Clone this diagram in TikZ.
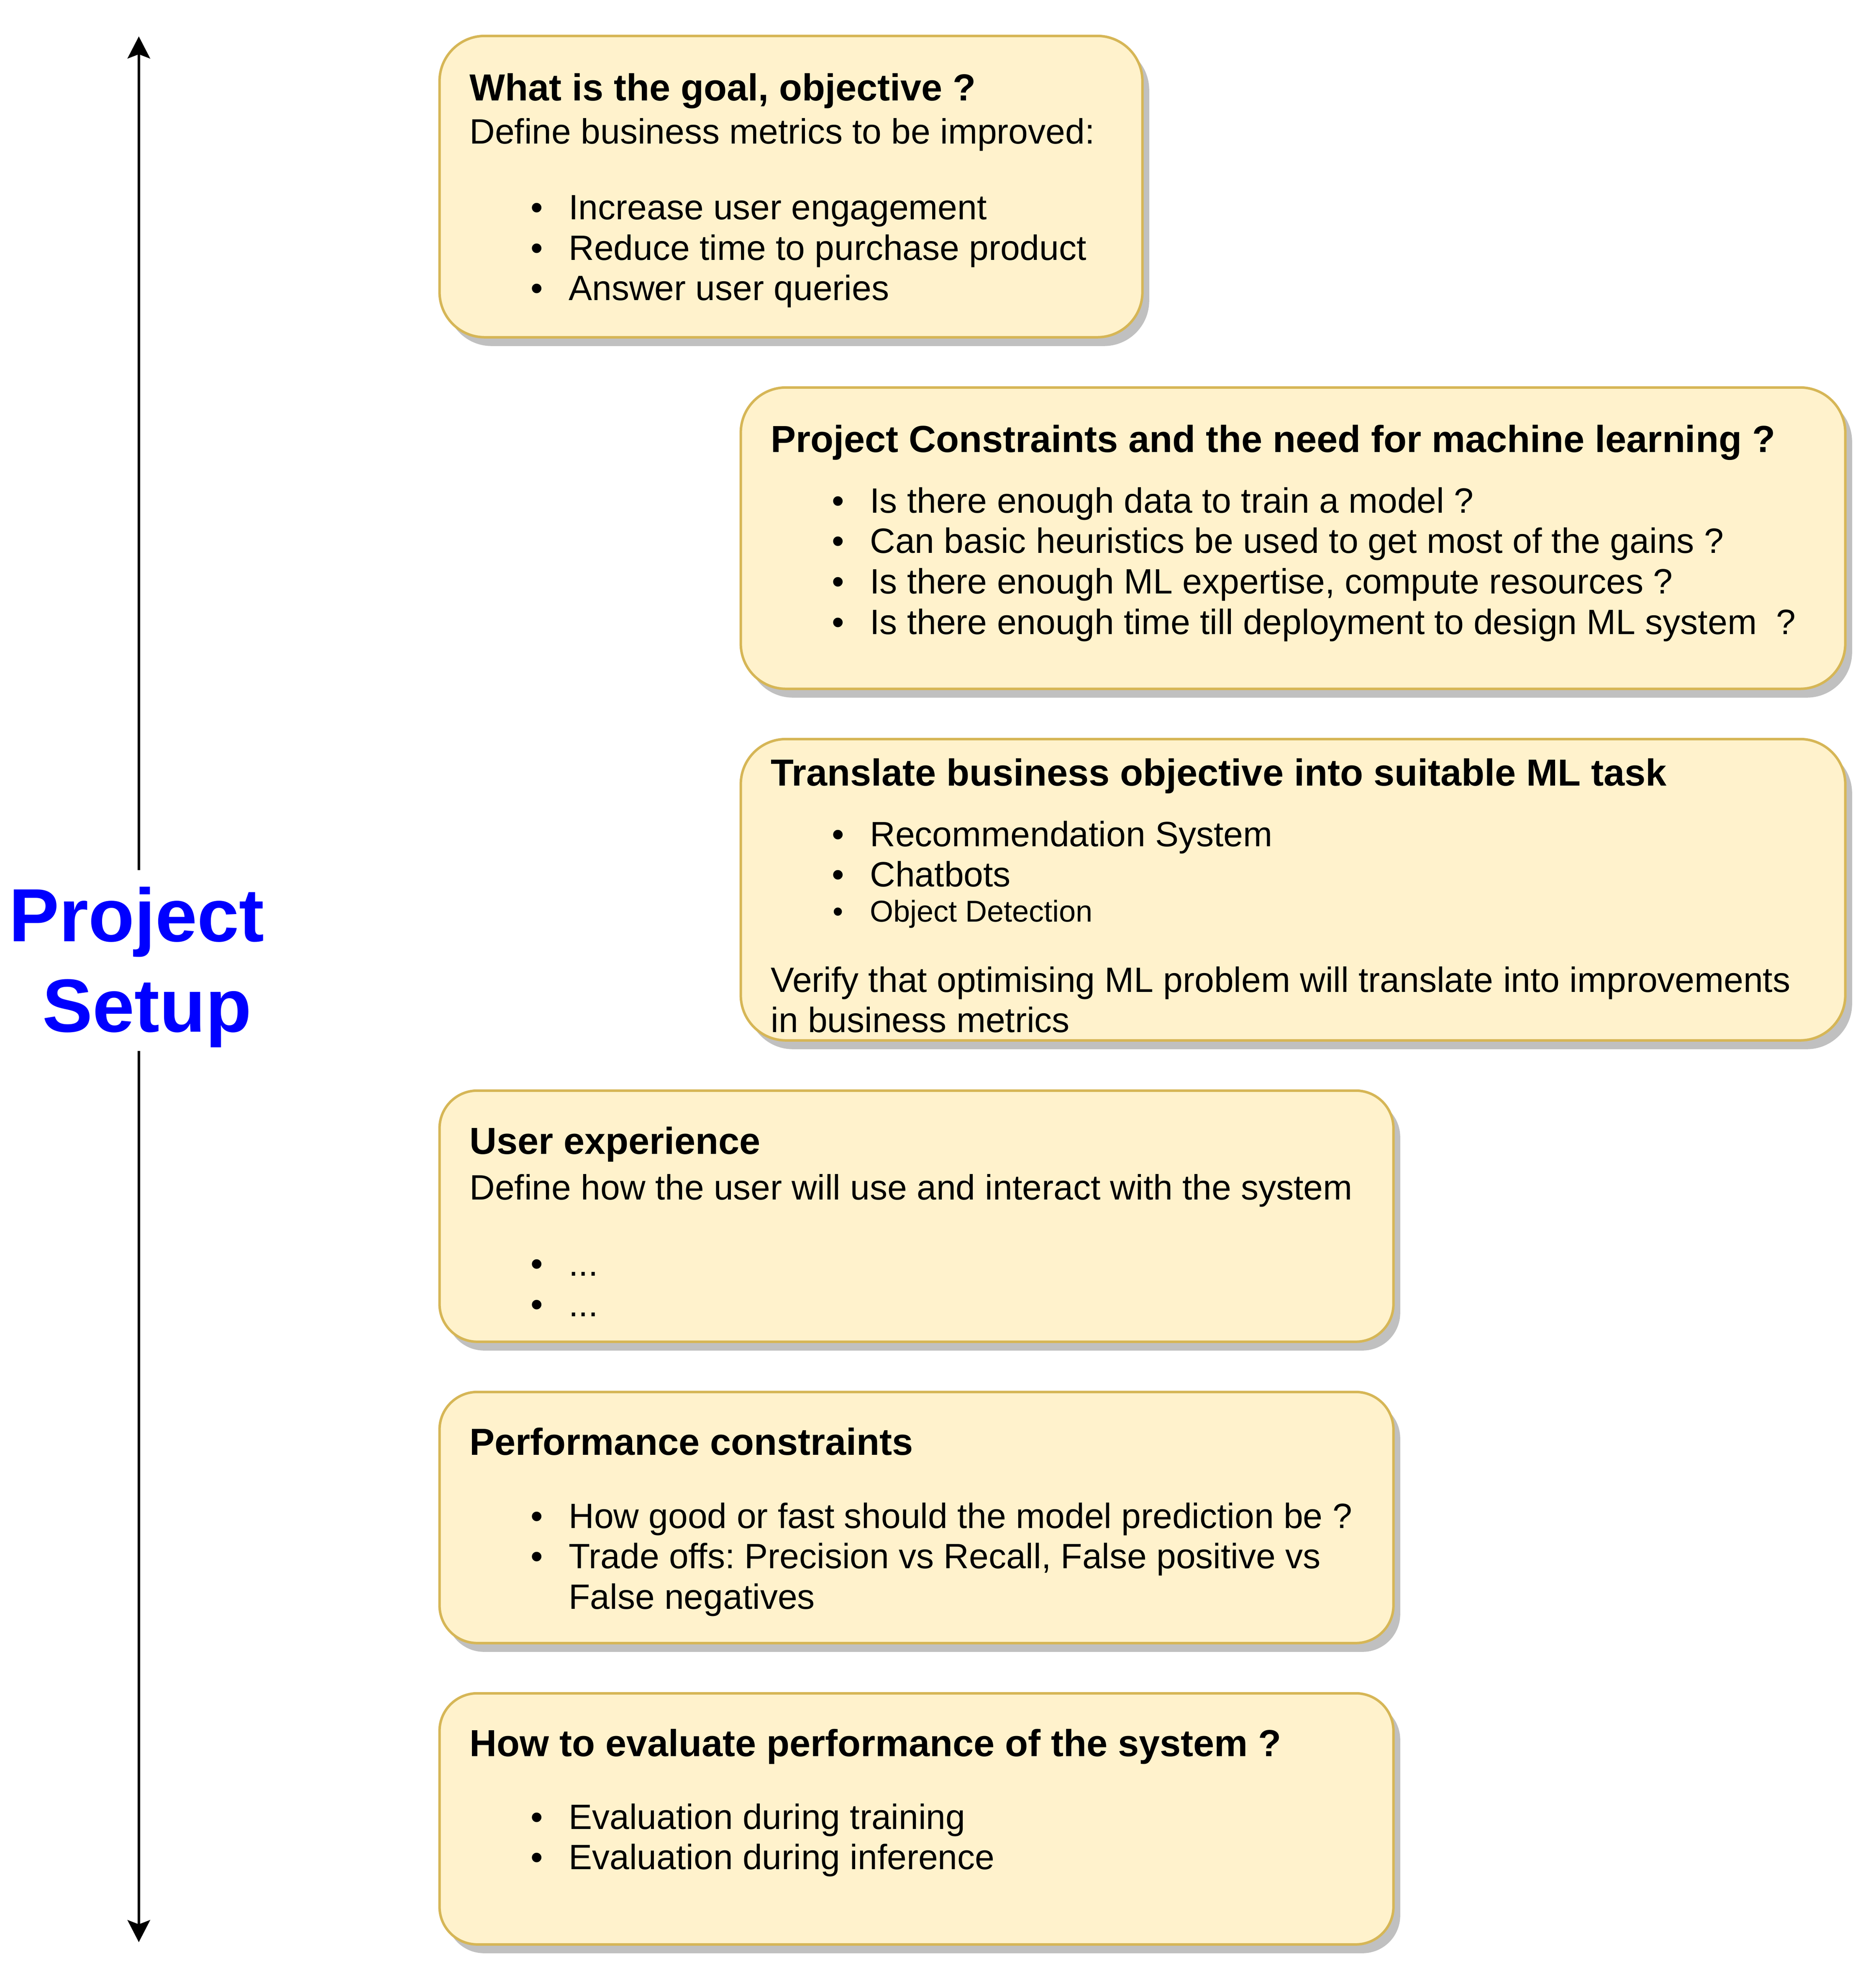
\documentclass[tikz,border=0pt]{standalone}
\usepackage{fontspec}
\setmainfont{Liberation Sans}
\usetikzlibrary{arrows.meta,shadows,calc}
\definecolor{boxfill}{HTML}{FFF2CC}
\definecolor{boxline}{HTML}{D6B656}
\definecolor{shadowc}{HTML}{C0C0C0}
\definecolor{lblblue}{HTML}{0000FF}
\newcommand{\lblstrut}{\vrule width0pt height28.4pt depth7.6pt}
\frenchspacing
\begin{document}
\begin{tikzpicture}[x=1pt,y=-1pt,
  box/.style={draw=boxline, fill=boxfill, line width=1pt, inner sep=0pt, outer sep=0pt,
    anchor=north west,
    drop shadow={shadow xshift=2.7pt, shadow yshift=-3.5pt, fill=shadowc, opacity=1}},
  bigbox/.style={box, rounded corners=18pt, minimum height=120pt},
  smallbox/.style={box, rounded corners=15pt, minimum height=100pt, minimum width=380pt},
  txt/.style={inner sep=0pt, outer sep=0pt, anchor=base west, font=\fontsize{14}{16}\selectfont},
  smalltxt/.style={txt, font=\fontsize{12}{14}\selectfont},
  ttl/.style={txt, font=\fontsize{15}{18}\selectfont\bfseries},
  dot/.style={inner sep=0pt, outer sep=0pt, anchor=base, font=\fontsize{14}{16}\selectfont},
  smalldot/.style={dot, font=\fontsize{12}{14}\selectfont},
  conn/.style={line width=1pt, >={Stealth[length=8.8pt,width=9pt,inset=1.7pt]}, <->},
  lbl/.style={inner sep=0pt, outer sep=0pt, fill=white, text=lblblue,
    font=\fontsize{30}{36}\selectfont\bfseries, anchor=north}
]
\useasboundingbox (0,0) rectangle (747.33,789.67);

% boxes
\node[bigbox, minimum width=280pt] (b1) at (175.1,14.3) {};
\node[bigbox, minimum width=440pt] (b2) at (295.1,154.3) {};
\node[bigbox, minimum width=440pt] (b3) at (295.1,294.3) {};
\node[smallbox] (b4) at (175.1,434.3) {};
\node[smallbox] (b5) at (175.1,554.3) {};
\node[smallbox] (b6) at (175.1,674.3) {};

% box 1
\node[ttl] (b1t) at ([shift={(12,25.8)}]b1.north west) {What is the goal, objective ?};
\node[txt] (b1s) at ([shift={(12,42.9)}]b1.north west) {Define business metrics to be improved:};
\node[dot] (b1d1) at ([shift={(38.8,73.1)}]b1.north west) {•};
\node[txt] (b1l1) at ([shift={(51.5,73.1)}]b1.north west) {Increase user engagement};
\node[dot] (b1d2) at ([shift={(38.8,89.2)}]b1.north west) {•};
\node[txt] (b1l2) at ([shift={(51.5,89.2)}]b1.north west) {Reduce time to purchase product};
\node[dot] (b1d3) at ([shift={(38.8,105.3)}]b1.north west) {•};
\node[txt] (b1l3) at ([shift={(51.5,105.3)}]b1.north west) {Answer user queries};

% box 2
\node[ttl] (b2t) at ([shift={(12,25.7)}]b2.north west) {Project Constraints and the need for machine learning ?};
\node[dot] (b2d1) at ([shift={(38.8,49.9)}]b2.north west) {•};
\node[txt] (b2l1) at ([shift={(51.5,49.9)}]b2.north west) {Is there enough data to train a model ?};
\node[dot] (b2d2) at ([shift={(38.8,66.0)}]b2.north west) {•};
\node[txt] (b2l2) at ([shift={(51.5,66.0)}]b2.north west) {Can basic heuristics be used to get most of the gains ?};
\node[dot] (b2d3) at ([shift={(38.8,82.1)}]b2.north west) {•};
\node[txt] (b2l3) at ([shift={(51.5,82.1)}]b2.north west) {Is there enough ML expertise, compute resources ?};
\node[dot] (b2d4) at ([shift={(38.8,98.2)}]b2.north west) {•};
\node[txt] (b2l4) at ([shift={(51.5,98.2)}]b2.north west) {Is there enough time till deployment to design ML system\ \ ?};

% box 3
\node[ttl] (b3t) at ([shift={(12,18.6)}]b3.north west) {Translate business objective into suitable ML task};
\node[dot] (b3d1) at ([shift={(38.8,42.7)}]b3.north west) {•};
\node[txt] (b3l1) at ([shift={(51.5,42.7)}]b3.north west) {Recommendation System};
\node[dot] (b3d2) at ([shift={(38.8,58.8)}]b3.north west) {•};
\node[txt] (b3l2) at ([shift={(51.5,58.8)}]b3.north west) {Chatbots};
\node[smalldot] (b3d3) at ([shift={(38.8,72.7)}]b3.north west) {•};
\node[smalltxt] (b3l3) at ([shift={(51.5,72.7)}]b3.north west) {Object Detection};
\node[txt] (b3v1) at ([shift={(12,100.7)}]b3.north west) {Verify that optimising ML problem will translate into improvements};
\node[txt] (b3v2) at ([shift={(12,116.7)}]b3.north west) {in business metrics};

% box 4
\node[ttl] (b4t) at ([shift={(12,25.3)}]b4.north west) {User experience};
\node[txt] (b4s) at ([shift={(12,43.5)}]b4.north west) {Define how the user will use and interact with the system};
\node[dot] (b4d1) at ([shift={(38.8,73.8)}]b4.north west) {•};
\node[txt] (b4l1) at ([shift={(51.5,73.8)}]b4.north west) {...};
\node[dot] (b4d2) at ([shift={(38.8,89.9)}]b4.north west) {•};
\node[txt] (b4l2) at ([shift={(51.5,89.9)}]b4.north west) {...};

% box 5
\node[ttl] (b5t) at ([shift={(12,25.1)}]b5.north west) {Performance constraints};
\node[dot] (b5d1) at ([shift={(38.8,54.2)}]b5.north west) {•};
\node[txt] (b5l1) at ([shift={(51.5,54.2)}]b5.north west) {How good or fast should the model prediction be ?};
\node[dot] (b5d2) at ([shift={(38.8,70.3)}]b5.north west) {•};
\node[txt] (b5l2) at ([shift={(51.5,70.3)}]b5.north west) {Trade offs: Precision vs Recall, False positive vs};
\node[txt] (b5l3) at ([shift={(51.5,86.4)}]b5.north west) {False negatives};

% box 6
\node[ttl] (b6t) at ([shift={(12,25.1)}]b6.north west) {How to evaluate performance of the system ?};
\node[dot] (b6d1) at ([shift={(38.8,54.1)}]b6.north west) {•};
\node[txt] (b6l1) at ([shift={(51.5,54.1)}]b6.north west) {Evaluation during training};
\node[dot] (b6d2) at ([shift={(38.8,70.1)}]b6.north west) {•};
\node[txt] (b6l2) at ([shift={(51.5,70.1)}]b6.north west) {Evaluation during inference};

% timeline arrow
\coordinate (atop) at (55.3,14.5);
\coordinate (abot) at (55.3,773.4);
\draw[conn] (atop) -- (abot);
\node[lbl] (label) at (58.6,346.5) {\vbox{\offinterlineskip
  \hbox to 116pt{\hss\lblstrut Project\kern8.34pt\hss}
  \hbox to 116pt{\hss\lblstrut Setup\hss}}};
\end{tikzpicture}
\end{document}
